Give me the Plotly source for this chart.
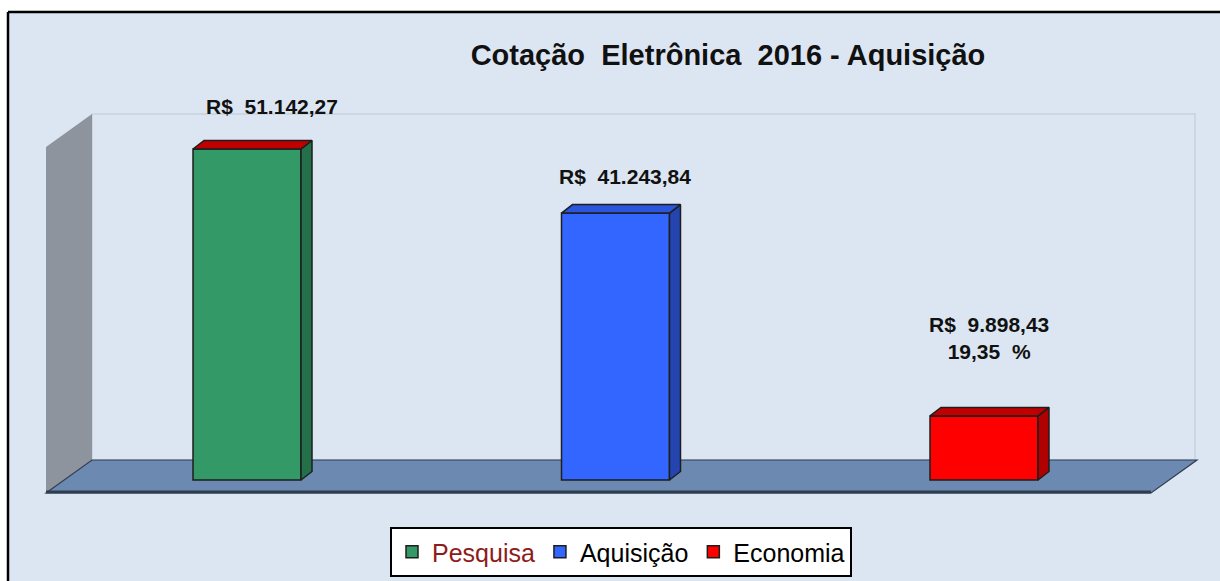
import plotly.graph_objects as go

# ---------------- data ----------------
categories = ["Pesquisa", "Aquisição", "Economia"]
values = [51142.27, 41243.84, 9898.43]
economy_percent = 19.35
title_text = "Cotação  Eletrônica  2016 - Aquisição"

# ---------------- style ----------------
front_colors = ["#339966", "#3366FF", "#FF0000"]
side_colors = ["#23704A", "#2444B0", "#B00000"]
top_colors = ["#C00000", "#2B55DD", "#C00000"]
outline = "#1E1E1E"
bg = "#DCE6F2"

W, H = 1220, 581
PX0, PX_STEP = 247, 368.5          # pixel x of first category, spacing
PY0 = 480                          # pixel y of value 0
MAX_PX = 331                       # pixel height of largest bar
K = MAX_PX / max(values)           # px per unit
BAR_W = 108 / PX_STEP
DDX = 11 / PX_STEP                 # depth offset in x (data units)
DDY = 8.5 / K                      # depth offset in y (data units)


def fmt_brl(v):
    s = f"{v:,.2f}"
    return s.replace(",", "X").replace(".", ",").replace("X", ".")


labels = [f"R$  {fmt_brl(v)}" for v in values]
labels[2] = labels[2] + f"<br>{economy_percent:.2f}".replace(".", ",") + "  %"
label_xshift = [25, 9, 5]
label_yshift = [43, 37, 78]


def ppx(x):
    return x / W


def ppy(y):
    return 1 - y / H


fig = go.Figure()

legend_names = ["<span style='color:#8E1B1B'>Pesquisa</span>", "Aquisição", "Economia"]

for i, (cat, v) in enumerate(zip(categories, values)):
    xl, xr = i - BAR_W / 2, i + BAR_W / 2
    # side face
    fig.add_trace(go.Scatter(
        x=[xr, xr + DDX, xr + DDX, xr, xr],
        y=[0, DDY, v + DDY, v, 0],
        fill="toself", fillcolor=side_colors[i], mode="lines",
        line=dict(color=outline, width=1.5), showlegend=False, hoverinfo="skip"))
    # top face
    fig.add_trace(go.Scatter(
        x=[xl, xl + DDX, xr + DDX, xr, xl],
        y=[v, v + DDY, v + DDY, v, v],
        fill="toself", fillcolor=top_colors[i], mode="lines",
        line=dict(color=outline, width=1.5), showlegend=False, hoverinfo="skip"))
    # front face
    fig.add_trace(go.Bar(
        x=[i], y=[v], width=BAR_W, name=legend_names[i],
        marker=dict(color=front_colors[i], line=dict(color=outline, width=1.5))))
    fig.add_annotation(
        x=i, y=v, xref="x", yref="y", text=f"<b>{labels[i]}</b>",
        showarrow=False, xshift=label_xshift[i], yshift=label_yshift[i],
        yanchor="middle", xanchor="center",
        font=dict(family="Liberation Sans, Arial", size=21, color="#111111"))

# background frame
shapes = [
    dict(type="rect", xref="paper", yref="paper", x0=ppx(8), y0=0,
         x1=1, y1=ppy(12), line=dict(width=0),
         fillcolor=bg, layer="below"),
    dict(type="line", xref="paper", yref="paper", x0=ppx(8), y0=ppy(12), x1=1, y1=ppy(12),
         line=dict(color="black", width=2.5), layer="below"),
    dict(type="line", xref="paper", yref="paper", x0=ppx(8), y0=ppy(12), x1=ppx(8), y1=0,
         line=dict(color="black", width=2.5), layer="below"),
    # back wall
    dict(type="rect", xref="paper", yref="paper", x0=ppx(92), y0=ppy(460),
         x1=ppx(1195), y1=ppy(114), line=dict(color="#C8D2DF", width=1.5),
         fillcolor=bg, layer="below"),
    # side wall
    dict(type="path", xref="paper", yref="paper",
         path=f"M{ppx(46)},{ppy(147)} L{ppx(92)},{ppy(114)} L{ppx(92)},{ppy(460)} L{ppx(46)},{ppy(493)} Z",
         fillcolor="#8D949D", line=dict(width=0), layer="below"),
    # floor
    dict(type="path", xref="paper", yref="paper",
         path=f"M{ppx(46)},{ppy(493)} L{ppx(92)},{ppy(460)} L{ppx(1197)},{ppy(460)} L{ppx(1151)},{ppy(493)} Z",
         fillcolor="#6C8AB1", line=dict(color="#2E3D4F", width=1.2), layer="below"),
    dict(type="line", xref="paper", yref="paper", x0=ppx(46), y0=ppy(492), x1=ppx(1151), y1=ppy(492),
         line=dict(color="#2E3D4F", width=3), layer="below"),
]

fig.update_layout(
    width=W, height=H,
    margin=dict(l=0, r=0, t=0, b=0, pad=0),
    paper_bgcolor="white", plot_bgcolor="rgba(0,0,0,0)",
    barmode="overlay",
    shapes=shapes,
    xaxis=dict(range=[-PX0 / PX_STEP, (W - PX0) / PX_STEP], domain=[0, 1],
               visible=False, fixedrange=True),
    yaxis=dict(range=[(PY0 - H) / K, PY0 / K], domain=[0, 1],
               visible=False, fixedrange=True),
    title=dict(text=f"<b>{title_text}</b>", x=ppx(728), y=ppy(55),
               xanchor="center", yanchor="middle",
               font=dict(family="Liberation Sans, Arial", size=29, color="#111111")),
    legend=dict(orientation="h", x=ppx(621), y=ppy(527), xanchor="center", yanchor="top",
                bgcolor="white", bordercolor="black", borderwidth=2,
                font=dict(family="Liberation Sans, Arial", size=25, color="black"),
                itemwidth=30, tracegroupgap=0),
    showlegend=True,
)

fig.write_html("out.html")
